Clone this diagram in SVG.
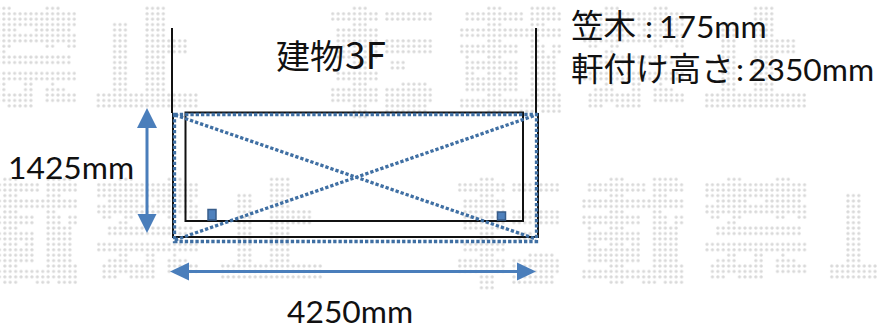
<svg xmlns="http://www.w3.org/2000/svg" width="877" height="329" viewBox="0 0 877 329">
<style>
.t{font-family:Lato,"Noto Sans CJK JP",sans-serif;font-size:31.8px;fill:#111}
.j{font-family:"Noto Sans CJK JP",sans-serif;font-size:32.500px;fill:#111}
.bl{fill:none;stroke:#111;stroke-width:2}
.dot{fill:none;stroke:#3f6fa3;stroke-width:3.300;stroke-dasharray:3.300 2}
.arr{fill:none;stroke:#4a7ebb;stroke-width:3}
.hd{fill:#4a7ebb}
.sq{fill:#4f81bd;stroke:#385d8a;stroke-width:1.500}
</style>
<defs>
<pattern id="pd" patternUnits="userSpaceOnUse" width="1" height="1"><circle cx=".5" cy=".5" r=".3" fill="#d9d9d9"/></pattern>
<path id="g-kin" fill="url(#pd)" d="M4 0h3v1h-3zM13 0h3v1h-3zM0 1h19v3h-19zM2 4h6v1h-6zM11 4h7v1h-7zM0 5h19v2h-19zM1 7h2v1h-2zM5 7h2v1h-2zM13 7h2v1h-2zM17 7h2v1h-2zM4 8h2v1h-2zM2 9h16v2h-16zM0 12h19v2h-19zM4 14h2v1h-2zM9 14h2v1h-2zM14 14h1v1h-1zM2 15h4v1h-4zM9 15h2v1h-2zM13 15h4v1h-4zM1 16h5v2h-5zM6 16h5v2h-5zM13 16h6v2h-6zM1 18h3v1h-3zM6 18h5v1h-5z"/>
<path id="g-shi" fill="url(#pd)" d="M9 0h4v3h-4zM3 3h3v13h-3zM9 3h4v13h-4zM13 6h4v3h-4zM0 16h19v3h-19z"/>
<path id="g-ten" fill="url(#pd)" d="M4 0h3v1h-3zM0 1h9v2h-9zM10 1h9v2h-9zM4 3h3v1h-3zM1 4h8v2h-8zM1 6h8v4h-8zM10 6h9v3h-9zM4 10h3v2h-3zM11 10h3v2h-3zM1 12h8v2h-8zM4 14h3v1h-3zM13 14h5v1h-5zM0 15h9v3h-9zM10 15h9v3h-9zM4 18h3v3h-3zM10 18h8v2h-8z"/>
<path id="g-sai" fill="url(#pd)" d="M5 0h3v1h-3zM13 0h5v1h-5zM1 1h11v2h-11zM13 1h6v2h-6zM5 3h3v1h-3zM13 3h3v1h-3zM0 4h19v2h-19zM5 6h3v1h-3zM13 6h2v1h-2zM0 7h11v2h-11zM13 7h3v2h-3zM17 7h2v2h-2zM1 9h1v1h-1zM5 9h3v1h-3zM13 9h5v1h-5zM1 10h10v2h-10zM13 10h5v2h-5zM1 12h2v1h-2zM5 12h3v1h-3zM9 12h2v1h-2zM13 12h5v1h-5zM1 13h10v3h-10zM13 13h5v3h-5zM5 16h3v1h-3zM13 16h6v1h-6zM0 17h19v2h-19zM5 19h3v1h-3zM11 19h3v1h-3zM15 19h4v1h-4z"/>
</defs>
<g id="watermark">
<use href="#g-kin" transform="translate(-26 5.6) scale(5.42)"/>
<use href="#g-shi" transform="translate(95.6 5.6) scale(5.42)"/>
<use href="#g-ten" transform="translate(330 5.6) scale(5.42)"/>
<use href="#g-sai" transform="translate(459 5.6) scale(5.42)"/>
<use href="#g-kin" transform="translate(582 5.6) scale(5.42)"/>
<use href="#g-shi" transform="translate(704 5.6) scale(5.42)"/>
<use href="#g-sai" transform="translate(-25 176.6) scale(5.42)"/>
<use href="#g-kin" transform="translate(96 176.6) scale(5.42)"/>
<use href="#g-shi" transform="translate(220 176.6) scale(5.42)"/>
<use href="#g-ten" transform="translate(457 176.6) scale(5.42)"/>
<use href="#g-sai" transform="translate(581.3 176.6) scale(5.42)"/>
<use href="#g-kin" transform="translate(704.3 176.6) scale(5.42)"/>
<use href="#g-shi" transform="translate(829 176.6) scale(5.42)"/>
</g>
<g id="building">
<path class="bl" d="M172 28V113M536 28V113"/>
<path class="bl" d="M185.500 112.500H523V221H185.500Z"/>
<path class="bl" d="M173 113V237H538V113"/>
</g>
<g id="sensor-left"><rect class="sq" x="208" y="209.500" width="8" height="10.500"/></g>
<g id="sensor-right"><rect class="sq" x="497.500" y="212" width="8" height="8"/></g>
<g id="connectors">
<rect class="dot" x="174.500" y="114.500" width="362" height="127"/>
<path class="dot" d="M175 115L536 239M175 240L536 115"/>
<path class="arr" d="M147 125V216"/>
<polygon class="hd" points="147,108 137,128 157,128"/>
<polygon class="hd" points="147,233 137.500,214 156.500,214"/>
<path class="arr" d="M186 271.500H520"/>
<polygon class="hd" points="170,271.500 189,262.500 189,280.500"/>
<polygon class="hd" points="536,271.500 517,262.500 517,280.500"/>
</g>
<g id="labels">
<text class="j" x="276" y="69" style="font-size:34px">建物<tspan x="345" style="font-size:37px">3F</tspan></text>
<text class="t" x="8" y="179">1425mm</text>
<text class="t" x="287" y="323">4250mm</text>
<text class="j" x="571" y="38">笠木<tspan class="t" x="645">:</tspan><tspan class="t" x="659">175mm</tspan></text>
<text class="j" x="571" y="81">軒付け高さ<tspan class="t" x="736">:</tspan><tspan class="t" x="748">2350mm</tspan></text>
</g>
</svg>
